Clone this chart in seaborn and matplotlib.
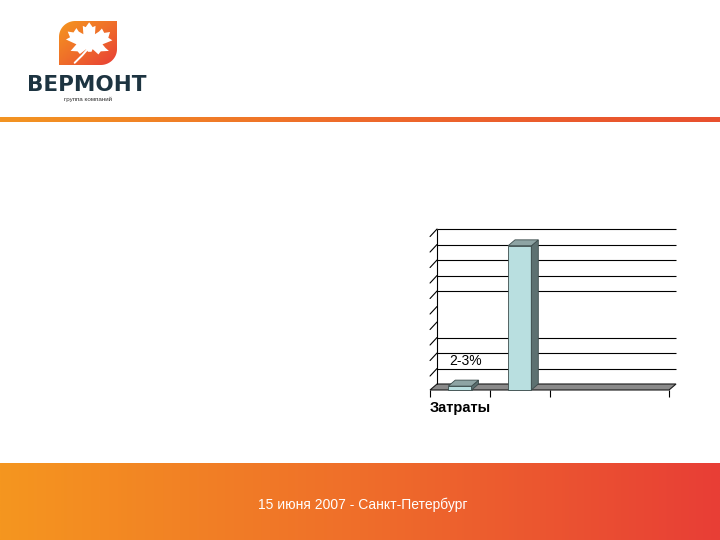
import numpy as np
import matplotlib
matplotlib.use("Agg")
import matplotlib.pyplot as plt
import seaborn as sns
from matplotlib.patches import Polygon
from matplotlib.colors import LinearSegmentedColormap

# chart data
slots = [0, 1]
values = [0.25, 9.3]
tick_label = "Затраты"
bar_note = "2-3%"
grid_levels = [1, 2, 3, 6, 7, 8, 9, 10]   # levels 4 and 5 have no line on the slide
wall_levels = list(range(1, 11))
slot_edges = [-0.5, 0.5, 1.5, 3.5]
footer = "15 июня 2007 - Санкт-Петербург"
brand = "ВЕРМОНТ"
brand_sub = "группа компаний"

sns.set_theme(style="white")
plt.rcParams['font.family'] = ['Liberation Sans', 'DejaVu Sans']

W, H = 720, 540
fig = plt.figure(figsize=(7.2, 5.4), dpi=100)
fig.patch.set_facecolor('white')


def fig_box(x0, y0, x1, y1):
    # pixel box (origin top-left) -> figure fraction rect
    return [x0 / W, 1 - y1 / H, (x1 - x0) / W, (y1 - y0) / H]


warm = LinearSegmentedColormap.from_list('warm', ['#f5961f', '#ef6e2a', '#e83e36'])
ramp = np.linspace(0, 1, 256).reshape(1, -1)

# footer band
band = fig.add_axes(fig_box(0, 463, 720, 540))
band.imshow(ramp, cmap=warm, aspect='auto', extent=(0, 1, 0, 1))
band.axis('off')
fig.text(363 / W, 1 - 505 / H, footer, color='white', fontsize=10,
         ha='center', va='center')

# header rule
rule_cmap = LinearSegmentedColormap.from_list('rule', ['#f39422', '#ee6a2b', '#e8502f'])
rule = fig.add_axes(fig_box(0, 117, 720, 122))
rule.imshow(ramp, cmap=rule_cmap, aspect='auto', extent=(0, 1, 0, 1))
rule.axis('off')

# logo: orange square, rounded top-left and bottom-right, white maple leaf
logo = fig.add_axes(fig_box(59, 21, 117, 65))
logo.set_xlim(0, 1)
logo.set_ylim(0, 1)
gx, gy = np.meshgrid(np.linspace(0, 1, 64), np.linspace(0, 1, 64))
img = logo.imshow((gx + (1 - gy)) / 2, cmap=warm, origin='lower',
                  extent=(0, 1, 0, 1), aspect='auto')
rx, ry = 0.28, 0.36
t = np.linspace(0, np.pi / 2, 20)
outline = [(rx, 1)] + [(rx - rx * np.sin(a), 1 - ry + ry * np.cos(a)) for a in t] \
    + [(0, 0), (1 - rx, 0)] \
    + [(1 - rx + rx * np.sin(a), ry - ry * np.cos(a)) for a in t] + [(1, 1)]
clip = Polygon(outline, closed=True, transform=logo.transData, fc='none', ec='none')
logo.add_patch(clip)
img.set_clip_path(clip)
leaf = [(0.52, 0.97), (0.46, 0.86), (0.41, 0.89), (0.42, 0.70), (0.34, 0.76),
        (0.30, 0.84), (0.25, 0.74), (0.15, 0.76), (0.19, 0.63), (0.12, 0.58),
        (0.30, 0.47), (0.24, 0.38), (0.20, 0.32), (0.32, 0.31), (0.36, 0.25),
        (0.47, 0.36), (0.50, 0.30), (0.56, 0.30), (0.58, 0.36), (0.68, 0.24),
        (0.72, 0.31), (0.86, 0.32), (0.80, 0.39), (0.75, 0.47), (0.92, 0.56),
        (0.85, 0.62), (0.88, 0.75), (0.78, 0.73), (0.74, 0.83), (0.69, 0.76),
        (0.62, 0.70), (0.63, 0.89), (0.58, 0.86)]
logo.add_patch(Polygon(leaf, closed=True, fc='white', ec='none'))
logo.plot([0.52, 0.40, 0.27], [0.40, 0.22, 0.05], color='white', lw=1.4,
          solid_capstyle='round')
logo.axis('off')

fig.text(87 / W, 1 - 85 / H, brand, family='DejaVu Sans', fontweight='bold',
         fontsize=15.5, color='#1d3441', ha='center', va='center')
fig.text(88 / W, 1 - 99.5 / H, brand_sub, fontsize=4.5, color='#333333',
         ha='center', va='center')

# chart: front plane is the axes, the back wall sits one "depth" step away
px_x, px_y = 59.75, 15.5          # pixels per data unit
x0_px, y0_px = 459.9, 390         # pixel position of x=0, y=0 on the front plane
xlim = (-0.6, 3.75)
ylim = (-0.6, 10.6)
ax = fig.add_axes(fig_box(x0_px + xlim[0] * px_x, y0_px - ylim[1] * px_y,
                          x0_px + xlim[1] * px_x, y0_px - ylim[0] * px_y))
DX, DY = 7 / px_x, 6 / px_y

# floor
floor = [(slot_edges[0], 0), (slot_edges[-1], 0),
         (slot_edges[-1] + DX, DY), (slot_edges[0] + DX, DY)]
ax.add_patch(Polygon(floor, closed=True, fc='#8a8a8a', ec='#1a1a1a', lw=0.8, zorder=1))

# back wall grid and left wall
ax.hlines([v + DY for v in grid_levels], slot_edges[0] + DX, slot_edges[-1] + DX,
          color='black', lw=0.8, zorder=1)
ax.vlines(slot_edges[0] + DX, DY, wall_levels[-1] + DY, color='black', lw=0.8, zorder=1)
for v in wall_levels:
    ax.plot([slot_edges[0], slot_edges[0] + DX], [v - 0.1, v + DY],
            color='black', lw=0.8, zorder=1)
ax.vlines(slot_edges, -0.45, 0, color='black', lw=0.8, zorder=1)

sns.barplot(x=slots, y=values, native_scale=True, width=0.39, errorbar=None,
            color='#b9dfe0', saturation=1, edgecolor='#3c4c4c', linewidth=0.6,
            ax=ax, zorder=3)

# 3D faces for each bar
for p in list(ax.patches):
    if not hasattr(p, 'get_width'):
        continue
    bx, bw, bh = p.get_x(), p.get_width(), p.get_height()
    if bw <= 0 or bw > 1:
        continue
    side = [(bx + bw, 0), (bx + bw + DX, DY), (bx + bw + DX, bh + DY), (bx + bw, bh)]
    top = [(bx, bh), (bx + DX, bh + DY), (bx + bw + DX, bh + DY), (bx + bw, bh)]
    ax.add_patch(Polygon(side, closed=True, fc='#5d7171', ec='#3c4c4c', lw=0.6, zorder=3))
    ax.add_patch(Polygon(top, closed=True, fc='#8ea4a4', ec='#3c4c4c', lw=0.6, zorder=3))

ax.text(slots[0] + 0.1, 1.87, bar_note, fontsize=10, ha='center', va='center',
        color='black', zorder=4)

ax.set_xlim(*xlim)
ax.set_ylim(*ylim)
ax.set_xticks([slots[0]], [tick_label], fontweight='bold', fontsize=10.5, color='black')
ax.set_yticks([])
ax.tick_params(axis='x', length=0, pad=1)
ax.set_xlabel('')
ax.set_ylabel('')
ax.set_facecolor('none')
for s in ax.spines.values():
    s.set_visible(False)

fig.savefig('out.png', dpi=100)
